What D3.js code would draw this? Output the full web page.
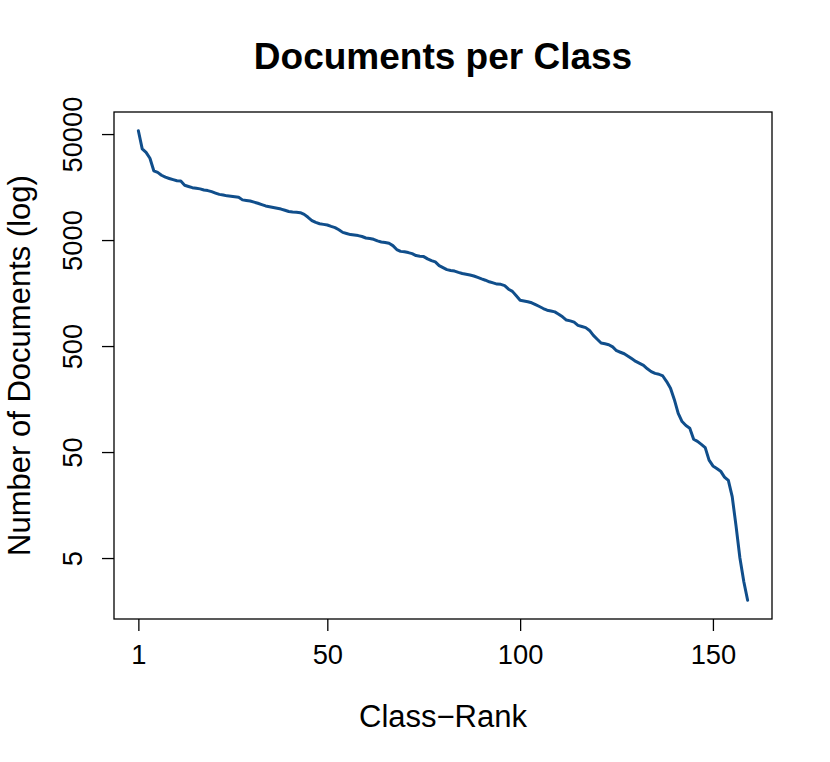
<!DOCTYPE html>
<html>
<head>
<meta charset="utf-8">
<script src="https://cdn.jsdelivr.net/npm/d3@7"></script>
<style>
  body { margin: 0; background: #fff; }
  text { font-family: "Liberation Sans", Arial, Helvetica, sans-serif; fill: #000; }
</style>
</head>
<body>
<script>
// Step 1: data (documents per class, sorted by rank)
//= ================================
var docCounts = [
  53700, 36260, 33600, 29540, 22530, 21750, 20430, 19600, 19060, 18570,
  18120, 18010, 16440, 16020, 15610, 15400, 15200, 14840, 14650, 14310,
  13880, 13490, 13290, 13060, 12950, 12810, 12670, 11970, 11820, 11690,
  11410, 11120, 10790, 10490, 10330, 10150, 9980, 9800, 9550, 9300,
  9200, 9170, 9070, 8740, 8200, 7640, 7330, 7130, 7030, 6930,
  6730, 6550, 6260, 5910, 5770, 5630, 5570, 5510, 5400, 5230,
  5170, 5080, 4910, 4800, 4750, 4660, 4430, 4070, 3910, 3880,
  3810, 3720, 3570, 3520, 3490, 3320, 3200, 3110, 2870, 2750,
  2630, 2580, 2550, 2480, 2420, 2380, 2340, 2290, 2220, 2150,
  2090, 2020, 1970, 1920, 1910, 1860, 1720, 1640, 1490, 1350,
  1330, 1310, 1280, 1230, 1180, 1130, 1090, 1070, 1050, 999,
  944, 880, 864, 840, 784, 764, 746, 702, 630, 580,
  534, 525, 515, 491, 452, 437, 423, 401, 379, 358,
  343, 329, 305, 287, 276, 271, 261, 231, 200, 156,
  116, 97, 89, 84, 66, 63, 59, 55, 42, 37,
  35, 33, 29, 27, 19, 10, 5, 3, 2
];
var xTicks = [1, 50, 100, 150];
var yTicks = [5, 50, 500, 5000, 50000];

var titleText = "Documents per Class";
var xLabel = "Class\u2212Rank";
var yLabel = "Number of Documents (log)";

var data = docCounts.map(function(v, i) { return { rank: i + 1, docs: v }; });

// Step 2: layout (R base graphics look)
//= ================================
var svgWidth = 830;
var svgHeight = 762;
var plot = { left: 114, right: 772, top: 112, bottom: 619 };

var svg = d3.select("body")
  .append("svg")
  .attr("width", svgWidth)
  .attr("height", svgHeight);

// R pads each axis range by 4%
var n = data.length;
var xPad = 0.04 * (n - 1);
var xScale = d3.scaleLinear()
  .domain([1 - xPad, n + xPad])
  .range([plot.left, plot.right]);

var logExt = d3.extent(data, d => Math.log10(d.docs));
var yPad = 0.04 * (logExt[1] - logExt[0]);
var yScale = d3.scaleLog()
  .domain([Math.pow(10, logExt[0] - yPad), Math.pow(10, logExt[1] + yPad)])
  .range([plot.bottom, plot.top]);

// Step 3: the line
//= ================================
var line = d3.line()
  .x(d => xScale(d.rank))
  .y(d => yScale(d.docs));

svg.append("path")
  .datum(data)
  .attr("d", line)
  .attr("fill", "none")
  .attr("stroke", "#104E8B")
  .attr("stroke-width", 3)
  .attr("stroke-linejoin", "round")
  .attr("stroke-linecap", "round");

// box round the plot
svg.append("rect")
  .attr("x", plot.left)
  .attr("y", plot.top)
  .attr("width", plot.right - plot.left)
  .attr("height", plot.bottom - plot.top)
  .attr("fill", "none")
  .attr("stroke", "#000")
  .attr("stroke-width", 1.3);

// Step 4: axes
//= ================================
var bottomAxis = d3.axisBottom(xScale)
  .tickValues(xTicks)
  .tickFormat(d3.format("d"))
  .tickSize(12)
  .tickPadding(14);

var xAxis = svg.append("g")
  .attr("transform", `translate(0, ${plot.bottom})`)
  .call(bottomAxis);

var leftAxis = d3.axisLeft(yScale)
  .tickValues(yTicks)
  .tickFormat(d3.format("d"))
  .tickSize(12);

var yAxis = svg.append("g")
  .attr("transform", `translate(${plot.left}, 0)`)
  .call(leftAxis);

[xAxis, yAxis].forEach(function(g) {
  g.select(".domain").remove();
  g.selectAll(".tick line").attr("stroke", "#000").attr("stroke-width", 1.3);
  g.selectAll(".tick text")
    .attr("fill", "#000")
    .style("font-family", "'Liberation Sans', Arial, Helvetica, sans-serif")
    .style("font-size", "27.3px");
});

xAxis.selectAll(".tick text").attr("dy", "0.71em");

// y tick labels are rotated like R's las=0
yAxis.selectAll(".tick text")
  .attr("x", null)
  .attr("dy", null)
  .attr("text-anchor", "middle")
  .attr("transform", "translate(-32, 0) rotate(-90)");

// Step 5: titles
//= ================================
svg.append("text")
  .attr("x", (plot.left + plot.right) / 2)
  .attr("y", 69)
  .attr("text-anchor", "middle")
  .style("font-size", "37px")
  .style("font-weight", "bold")
  .text(titleText);

svg.append("text")
  .attr("x", (plot.left + plot.right) / 2)
  .attr("y", 727)
  .attr("text-anchor", "middle")
  .style("font-size", "31px")
  .text(xLabel);

svg.append("text")
  .attr("transform", `translate(30, ${(plot.top + plot.bottom) / 2}) rotate(-90)`)
  .attr("text-anchor", "middle")
  .style("font-size", "31px")
  .text(yLabel);
</script>
</body>
</html>
